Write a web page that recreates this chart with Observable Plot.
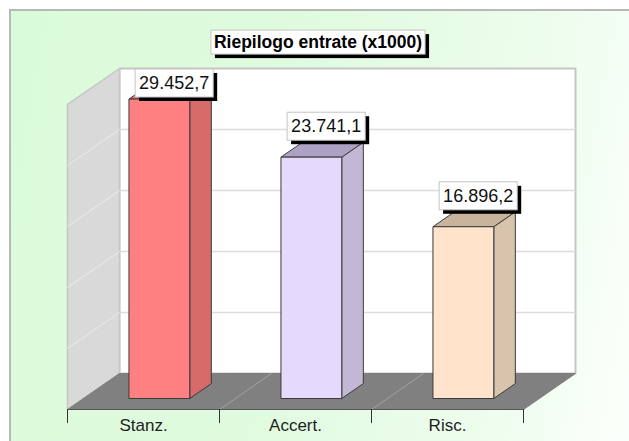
<!DOCTYPE html>
<html><head><meta charset="utf-8">
<script src="https://cdn.jsdelivr.net/npm/d3@7"></script>
<script src="https://cdn.jsdelivr.net/npm/@observablehq/plot@0.6"></script>
<style>
html,body{margin:0;padding:0;background:#fff;}
#wrap{position:relative;width:629px;height:441px;overflow:hidden;}
#bg{position:absolute;left:9px;top:9px;width:700px;height:500px;border-top:2px solid #b8b8b8;border-left:2px solid #b8b8b8;
  background:linear-gradient(100deg,#dafbd9 0%,#e0fbdf 40%,#eefdee 70%,#fbfffb 88%,#ffffff 100%);}
#chart{position:absolute;left:0;top:0;}
</style></head>
<body><div id="wrap"><div id="bg"></div><div id="chart"></div></div>
<script>
const title = "Riepilogo entrate (x1000)";
const categories = ["Stanz.", "Accert.", "Risc."];
const values = [29452.7, 23741.1, 16896.2];
const yTicks = [0, 6000, 12000, 18000, 24000, 30000];
const frontColors = ["#ff8080", "#e6d9fe", "#ffe4cb"];
const sideColors = ["#d86a6a", "#c3b7d6", "#d8c3ad"];
const topColors = ["#e07272", "#aea2c4", "#c8b39c"];

// oblique 3D depth (category units / value units per full depth)
const DX = 0.342, DY = 3540;
const yMax = yTicks[yTicks.length - 1];
const D0 = 0.305, D1 = 0.72, DMID = (D0 + D1) / 2;

const itFormat = d3.formatLocale({decimal: ",", thousands: ".", grouping: [3], currency: ["€", ""]}).format(",.1f");

function P(c, v, d) { return {x: c + d * DX, y: v + d * DY}; }
function poly(pts, fill, stroke, sw = 1) {
  return Plot.line([...pts, pts[0]], {x: "x", y: "y", fill, stroke, strokeWidth: sw, strokeLinejoin: "miter", strokeLinecap: "butt"});
}

const marks = [];
// back wall
marks.push(poly([P(0,0,1), P(3,0,1), P(3,yMax,1), P(0,yMax,1)], "#ffffff", "#c6c6c6", 2));
// left wall
marks.push(poly([P(0,0,0), P(0,0,1), P(0,yMax,1), P(0,yMax,0)], "#d9d9d9", "#c6c6c6", 1.5));
const grid = yTicks.slice(1, -1);
marks.push(Plot.link(grid, {x1: DX, y1: v => v + DY, x2: 3 + DX, y2: v => v + DY, stroke: "#dcdcdc", strokeWidth: 1.5}));
marks.push(Plot.link(grid, {x1: 0, y1: v => v, x2: DX, y2: v => v + DY, stroke: "#ebebeb", strokeWidth: 1}));
// floor
marks.push(poly([P(0,0,0), P(3,0,0), P(3,0,1), P(0,0,1)], "#808080", "#808080", 1));
marks.push(Plot.link([1, 2], {x1: c => c, y1: 0, x2: c => c + DX, y2: DY, stroke: "#a3a3a3", strokeWidth: 1}));
marks.push(Plot.link([0], {x1: 0, y1: 0, x2: 3, y2: 0, stroke: "#555", strokeWidth: 1}));
// bars
values.forEach((v, i) => {
  const c0 = i + 0.3, c1 = i + 0.7;
  marks.push(poly([P(c1,0,D0), P(c1,0,D1), P(c1,v,D1), P(c1,v,D0)], sideColors[i], "#3a3a3a", 1));
  marks.push(poly([P(c0,v,D0), P(c1,v,D0), P(c1,v,D1), P(c0,v,D1)], topColors[i], "#3a3a3a", 1));
  marks.push(poly([P(c0,0,D0), P(c1,0,D0), P(c1,v,D0), P(c0,v,D0)], frontColors[i], "#3a3a3a", 1));
});
// axis ticks and category labels
marks.push(Plot.axisX([0, 1, 2, 3], {tickSize: 14, tickFormat: () => "", stroke: "#333", label: null}));
marks.push(Plot.axisX(categories.map((c, i) => i + 0.5), {tickSize: 0, tickPadding: 9, tickFormat: d => categories[Math.floor(d)], fontSize: 17, fill: "#1e1e1e", label: null}));
// value labels
marks.push(Plot.text(values, {x: (v, i) => i + 0.5 + DMID * DX, y: v => v + D1 * DY, text: v => itFormat(v), dx: 4, fontSize: 18, fill: "#111", className: "vlabel"}));
// title
marks.push(Plot.text([title], {frameAnchor: "top", dy: -26, dx: -3.5, lineAnchor: "middle", fontSize: 17.5, fontWeight: "bold", fill: "#000", className: "tlabel"}));

const plot = Plot.plot({
  width: 629, height: 441,
  marginLeft: 67, marginRight: 54, marginTop: 68, marginBottom: 32,
  x: {domain: [0, 3 + DX], axis: null},
  y: {domain: [0, yMax + DY], axis: null},
  style: {background: "transparent", fontFamily: "'Liberation Sans', Arial, sans-serif", overflow: "visible"},
  marks
});
document.getElementById("chart").appendChild(plot);

const svgNS = "http://www.w3.org/2000/svg";
const wallTop = plot.scale("y").apply(yMax + DY);
function boxify(sel, padX, padY, anchorBottom) {
  plot.querySelectorAll(sel + " text").forEach(t => {
    const tr = t.getAttribute("transform") || "";
    const bb = t.getBBox();
    const outer = document.createElementNS(svgNS, "g");
    outer.setAttribute("transform", tr);
    const g = document.createElementNS(svgNS, "g");
    outer.appendChild(g);
    const bx = bb.x - padX, by = bb.y - padY, bw = bb.width + 2 * padX, bh = bb.height + 2 * padY;
    const sh = document.createElementNS(svgNS, "rect");
    sh.setAttribute("x", bx + 4); sh.setAttribute("y", by + 4);
    sh.setAttribute("width", bw); sh.setAttribute("height", bh); sh.setAttribute("fill", "#000");
    const r = document.createElementNS(svgNS, "rect");
    r.setAttribute("x", bx); r.setAttribute("y", by);
    r.setAttribute("width", bw); r.setAttribute("height", bh);
    r.setAttribute("fill", "#fff"); r.setAttribute("stroke", "#c4c4c4"); r.setAttribute("stroke-width", 1);
    t.parentNode.insertBefore(outer, t);
    g.appendChild(sh); g.appendChild(r); g.appendChild(t);
    t.removeAttribute("transform");
    if (anchorBottom) {
      let shift = -2 - (by + bh);
      const svgTop = plot.getBoundingClientRect().top;
      const topNow = r.getBoundingClientRect().top - svgTop + shift;
      if (topNow < wallTop + 1) shift += (wallTop + 1 - topNow);
      g.setAttribute("transform", `translate(0,${shift})`);
    }
  });
}
boxify(".vlabel", 4, 4, true);
boxify(".tlabel", 3, 2, false);
</script>
</body></html>
